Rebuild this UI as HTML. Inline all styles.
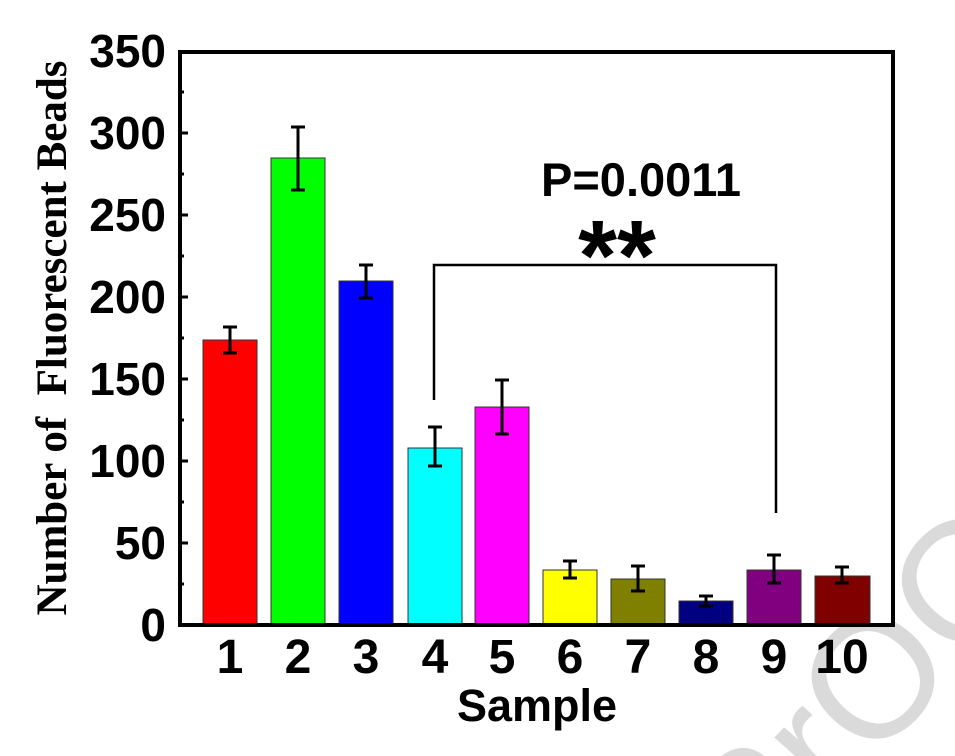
<!DOCTYPE html>
<html><head><style>body{margin:0;background:#fff;overflow:hidden}</style></head><body>
<svg width="955" height="756" xmlns="http://www.w3.org/2000/svg" style="display:block;overflow:hidden">
<g font-family="Liberation Sans, sans-serif" fill="#dadada" font-size="170">
<text transform="translate(755,890) rotate(-47)">PrOOf</text>
</g>
<rect x="180" y="52" width="713" height="573" fill="#fff"/>
<g stroke="#333" stroke-width="1">
<rect x="203" y="340" width="54" height="285" fill="#ff0000"/>
<rect x="271" y="158" width="54" height="467" fill="#00ff00"/>
<rect x="339" y="281" width="54" height="344" fill="#0000ff"/>
<rect x="408" y="448" width="54" height="177" fill="#00ffff"/>
<rect x="475" y="407" width="54" height="218" fill="#ff00ff"/>
<rect x="543" y="570" width="54" height="55" fill="#ffff00"/>
<rect x="611" y="579" width="54" height="46" fill="#808000"/>
<rect x="679" y="601" width="54" height="24" fill="#000080"/>
<rect x="747" y="570" width="54" height="55" fill="#800080"/>
<rect x="815" y="576" width="55" height="49" fill="#800000"/>
</g>
<g stroke="#000" stroke-width="3" fill="none">
<path d="M230 327V353M223 327H237M223 353H237"/>
<path d="M298 127V190M291 127H305M291 190H305"/>
<path d="M366 265V298M359 265H373M359 298H373"/>
<path d="M435 427V466M428 427H442M428 466H442"/>
<path d="M502 380V434M495 380H509M495 434H509"/>
<path d="M570 561V578M563 561H577M563 578H577"/>
<path d="M638 566V591M631 566H645M631 591H645"/>
<path d="M706 596V606M699 596H713M699 606H713"/>
<path d="M774 555V583M767 555H781M767 583H781"/>
<path d="M842 567V583M835 567H849M835 583H849"/>
<path d="M434 400V265H776V513" stroke-width="2.5"/>
</g>
<path d="M180 52H893V625H180Z" stroke="#000" stroke-width="4" fill="none"/>
<g stroke="#000" stroke-width="3">
<path d="M180 133H188M180 215H188M180 297H188M180 379H188M180 461H188M180 543H188"/>
<path d="M180 92H184M180 174H184M180 256H184M180 338H184M180 420H184M180 502H184M180 584H184"/>
</g>
<g font-family="Liberation Sans, sans-serif" font-weight="bold" font-size="46" text-anchor="end" fill="#000">
<text x="166" y="67">350</text><text x="166" y="149">300</text><text x="166" y="231">250</text>
<text x="166" y="313">200</text><text x="166" y="395">150</text><text x="166" y="477">100</text>
<text x="166" y="559">50</text><text x="166" y="641">0</text>
</g>
<g font-family="Liberation Sans, sans-serif" font-weight="bold" font-size="48" text-anchor="middle" fill="#000">
<text x="230" y="673">1</text><text x="298" y="673">2</text><text x="366" y="673">3</text>
<text x="435" y="673">4</text><text x="502" y="673">5</text><text x="570" y="673">6</text>
<text x="638" y="673">7</text><text x="706" y="673">8</text><text x="774" y="673">9</text><text x="842" y="673">10</text>
<text x="537" y="721" font-size="45">Sample</text>
<text x="641" y="196" font-size="47">P=0.0011</text>
<text x="617" y="290" font-size="100">**</text>
</g>
<text transform="translate(66,338) rotate(-90)" text-anchor="middle" font-family="Liberation Serif, serif" font-weight="bold" font-size="43" fill="#000" xml:space="preserve">Number of  Fluorescent Beads</text>
</svg>
</body></html>
